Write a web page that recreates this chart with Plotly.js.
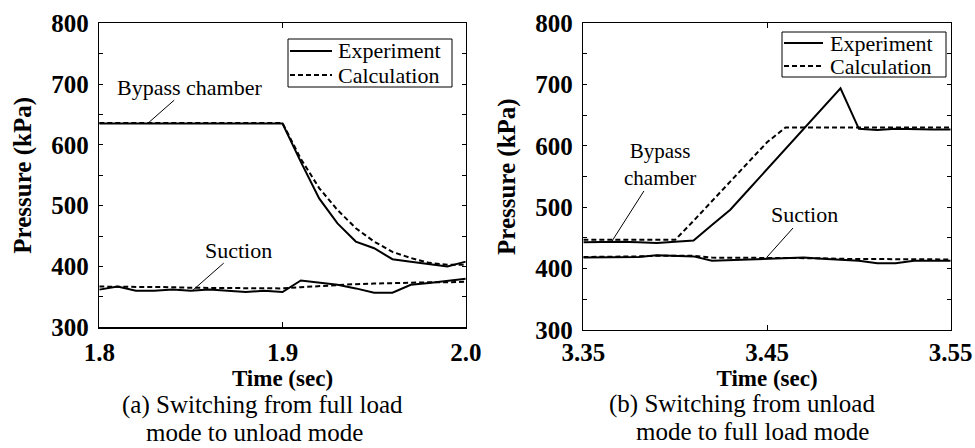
<!DOCTYPE html>
<html>
<head>
<meta charset="utf-8">
<script src="https://cdn.plot.ly/plotly-3.0.1.min.js"></script>
<style>html,body{margin:0;padding:0;background:#fff;}#chart{width:975px;height:448px;}</style>
</head>
<body>
<div id="chart"></div>
<script>
// ---- Data ----
// (a) switching from full load mode to unload mode
const timeA = [1.80,1.81,1.82,1.83,1.84,1.85,1.86,1.87,1.88,1.89,1.90,1.91,1.92,1.93,1.94,1.95,1.96,1.97,1.98,1.99,2.00];
const expBypassA  = [635,635,635,635,635,635,636,635,635,635,635,572,512,471,441,430,412,408,404,400,408];
const calcBypassA = [636,636,636,636,636,636,636,636,636,636,636,577,529,493,463,441,424,414,406,403,403];
const expSuctionA = [362,367,360,360,362,360,362,360,358,360,358,377,373,370,364,357,357,370,373,377,380];
const calcSuctionA= [367,367,366,366,366,365,365,365,364,364,364,366,368,370,371,372,373,373,374,374,375];

// (b) switching from unload mode to full load mode
const timeB = [3.35,3.36,3.37,3.38,3.39,3.40,3.41,3.42,3.43,3.44,3.45,3.46,3.47,3.48,3.49,3.50,3.51,3.52,3.53,3.54,3.55];
const expBypassB  = [443,444,444,443,442,444,446,471,496,529,562,595,628,661,694,628,626,628,627,627,627];
const calcBypassB = [447,447,447,447,447,447,478,510,542,574,606,630,630,630,630,630,630,630,630,630,630];
const expSuctionB = [418,418,418,419,422,421,420,413,414,415,416,417,418,416,415,413,409,409,413,413,413];
const calcSuctionB= [419,419,419,420,421,421,421,418,418,418,418,418,417,417,416,416,415,415,415,415,415];

// tick labels
const yTickVals = [300,350,400,450,500,550,600,650,700,750,800];
const yTickText = ['300','','400','','500','','600','','700','','800'];
const xTickValsA = [1.8,1.9,2.0];
const xTickTextA = ['1.8','1.9','2.0'];
const xTickValsB = [3.35,3.45,3.55];
const xTickTextB = ['3.35','3.45','3.55'];
const seriesNames = ['Experiment', 'Calculation'];

const serif = 'Liberation Serif';
const nb = '\u00A0';
const DASH = '5px,3px';
const bold = s => s ? '<b>' + s + '</b>' : '';

function line(x, y, dashed, xa, ya, name) {
  return {
    type: 'scatter', mode: 'lines', x: x, y: y, xaxis: xa, yaxis: ya,
    name: name, showlegend: false, hoverinfo: 'skip',
    line: {color: '#000', width: 2, dash: dashed ? DASH : 'solid'}
  };
}

const data = [
  line(timeA, expBypassA, false, 'x', 'y', seriesNames[0]),
  line(timeA, calcBypassA, true, 'x', 'y', seriesNames[1]),
  line(timeA, expSuctionA, false, 'x', 'y', seriesNames[0]),
  line(timeA, calcSuctionA, true, 'x', 'y', seriesNames[1]),
  line(timeB, expBypassB, false, 'x2', 'y2', seriesNames[0]),
  line(timeB, calcBypassB, true, 'x2', 'y2', seriesNames[1]),
  line(timeB, expSuctionB, false, 'x2', 'y2', seriesNames[0]),
  line(timeB, calcSuctionB, true, 'x2', 'y2', seriesNames[1])
];

const tickFont = {family: serif, size: 25, color: '#000'};

function xAxis(domain, range, vals, text, anchor, labelGap) {
  return {
    domain: domain, range: range, anchor: anchor,
    tickmode: 'array', tickvals: vals, ticktext: text.map(bold),
    ticks: 'inside', ticklen: 5, tickwidth: 1, tickcolor: '#000',
    showline: true, linewidth: 1.5, linecolor: '#000', mirror: 'ticks',
    showgrid: false, zeroline: false, tickfont: tickFont, ticklabelstandoff: labelGap,
    title: {text: bold('Time (sec)') + nb + nb + nb + nb, font: {family: serif, size: 23, color: '#000'}, standoff: 0}
  };
}
function yAxis(domain, anchor, pad) {
  return {
    domain: domain, range: [300, 800], anchor: anchor,
    tickmode: 'array', tickvals: yTickVals, ticktext: yTickText.map(bold),
    ticks: 'inside', ticklen: 4, tickwidth: 1, tickcolor: '#000',
    showline: true, linewidth: 1.5, linecolor: '#000', mirror: 'ticks',
    showgrid: false, zeroline: false, tickfont: tickFont, ticklabelstandoff: 4,
    title: {text: bold('Pressure (kPa)') + pad, font: {family: serif, size: 25, color: '#000'}, standoff: 12}
  };
}

// hand-drawn legend boxes (pixel geometry of the reference, converted to paper units)
const W = 975, H = 448;
const px = v => v / W, py = v => 1 - v / H;
function legendParts(x0, x1, y0, y1, lineX0, lineX1, textX, row1, row2) {
  const shapes = [
    {type: 'rect', xref: 'paper', yref: 'paper', x0: px(x0), x1: px(x1), y0: py(y0), y1: py(y1),
     line: {color: '#000', width: 1}, fillcolor: '#fff', layer: 'above'},
    {type: 'line', xref: 'paper', yref: 'paper', x0: px(lineX0), x1: px(lineX1), y0: py(row1), y1: py(row1),
     line: {color: '#000', width: 2}, layer: 'above'},
    {type: 'line', xref: 'paper', yref: 'paper', x0: px(lineX0), x1: px(lineX1), y0: py(row2), y1: py(row2),
     line: {color: '#000', width: 2, dash: DASH}, layer: 'above'}
  ];
  const anns = [
    {text: seriesNames[0], xref: 'paper', yref: 'paper', x: px(textX), y: py(row1), xanchor: 'left', yanchor: 'middle',
     showarrow: false, font: {family: serif, size: 22, color: '#000'}},
    {text: seriesNames[1], xref: 'paper', yref: 'paper', x: px(textX), y: py(row2), xanchor: 'left', yanchor: 'middle',
     showarrow: false, font: {family: serif, size: 22, color: '#000'}}
  ];
  return {shapes, anns};
}
const legA = legendParts(288, 452, 39, 87, 290, 332, 336, 51, 75);
const legB = legendParts(782, 946, 32, 77, 784, 823, 828, 43, 66);

function label(text, xref, yref, x, y, ax, ay, size) {
  return {
    text: text, xref: xref, yref: yref, x: x, y: y,
    axref: xref, ayref: yref, ax: ax, ay: ay,
    showarrow: true, arrowhead: 0, arrowwidth: 1, arrowcolor: '#000',
    font: {family: serif, size: size || 22, color: '#000'}, borderpad: 0
  };
}
function plain(text, xref, yref, x, y, size) {
  return {
    text: text, xref: xref, yref: yref, x: x, y: y, showarrow: false,
    xanchor: 'center', yanchor: 'middle',
    font: {family: serif, size: size, color: '#000'}
  };
}

const layout = {
  width: W, height: H,
  margin: {l: 0, r: 0, t: 0, b: 0},
  paper_bgcolor: '#fff', plot_bgcolor: '#fff',
  showlegend: false,
  xaxis: xAxis([0.1018, 0.4777], [1.8, 2.0], xTickValsA, xTickTextA, 'y', 2),
  yaxis: yAxis([0.2694, 0.948], 'x', nb + nb + nb + nb),
  xaxis2: xAxis([0.5983, 0.9751], [3.35, 3.55], xTickValsB, xTickTextB, 'y2', 0),
  yaxis2: yAxis([0.2634, 0.948], 'x2', nb + nb + nb),
  shapes: legA.shapes.concat(legB.shapes),
  annotations: [
    label('Bypass chamber', 'x', 'y', 1.8267, 636, 1.849, 695),
    label('Suction', 'x', 'y', 1.8507, 360, 1.876, 427),
    label('Bypass<br>chamber', 'x2', 'y2', 3.3654, 444, 3.392, 569, 21),
    label('Suction', 'x2', 'y2', 3.4497, 418, 3.4705, 487.5),
    plain('(a) Switching from full load', 'paper', 'paper', 0.2697, py(405), 25),
    plain('mode to unload mode', 'paper', 'paper', 0.2615, py(432), 25),
    plain('(b) Switching from unload', 'paper', 'paper', 0.761, py(404), 25),
    plain('mode to full load mode', 'paper', 'paper', 0.7718, py(431), 25)
  ].concat(legA.anns, legB.anns)
};

Plotly.newPlot('chart', data, layout, {displayModeBar: false, staticPlot: true});
</script>
</body>
</html>
